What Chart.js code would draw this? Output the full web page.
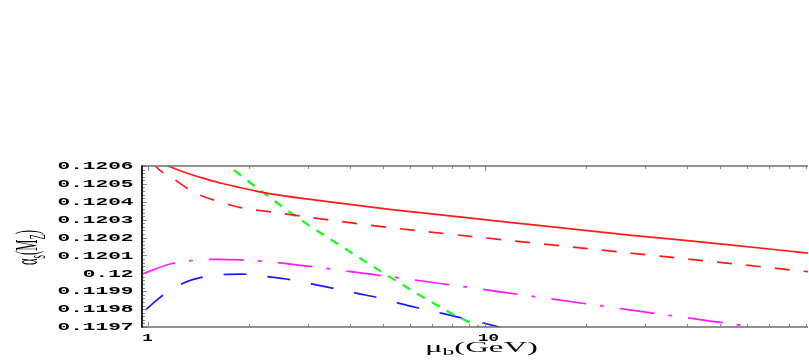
<!DOCTYPE html>
<html>
<head>
<meta charset="utf-8">
<script src="https://cdn.jsdelivr.net/npm/chart.js@4.4.1/dist/chart.umd.min.js"></script>
<style>
  html, body { margin: 0; padding: 0; background: #fff; }
  #wrap { width: 809px; height: 360px; }
</style>
</head>
<body>
<div id="wrap"><canvas id="chart" width="809" height="360"></canvas></div>
<script>
// mu_b (GeV) against alpha_s(M_Z), one pair of arrays per curve
const redSolidMu = [0.963, 1.162, 1.332, 1.494, 1.67, 1.875, 2.102, 2.35, 2.958, 3.713, 5.225, 11.85, 26.9, 50, 91.19];
const redSolidAlpha = [0.120671, 0.120597, 0.120555, 0.120527, 0.120502, 0.12048, 0.12046, 0.120443, 0.120416, 0.120392, 0.120358, 0.120285, 0.120214, 0.120165, 0.120113];

const redDashMu = [1.04, 1.061, 1.189, 1.379, 1.635, 1.875, 2.354, 2.958, 3.713, 5.225, 11.3, 24.8, 50, 91.19];
const redDashAlpha = [0.120622, 0.120596, 0.120531, 0.120451, 0.1204, 0.120369, 0.120342, 0.120316, 0.120291, 0.120256, 0.120188, 0.120121, 0.120061, 0.120009];

const greenMu = [1.5, 1.739, 2.194, 2.825, 3.713, 5.12, 6.41, 8.04, 9.15, 10.5];
const greenAlpha = [0.120692, 0.1206, 0.120455, 0.120304, 0.120158, 0.119991, 0.119879, 0.119773, 0.119721, 0.119666];

const magentaMu = [0.963, 1.16, 1.43, 1.635, 1.875, 2.3, 2.69, 3.12, 4.47, 5.05, 8.03, 11.4, 20.7, 26.9, 33.5, 53.3, 91.19];
const magentaAlpha = [0.119995, 0.120051, 0.120075, 0.120078, 0.120075, 0.120065, 0.12005, 0.120036, 0.119998, 0.119985, 0.119934, 0.119894, 0.119826, 0.119796, 0.119771, 0.119719, 0.119659];

const blueMu = [0.986, 1.05, 1.108, 1.2, 1.36, 1.6, 1.9, 2.25, 2.69, 3.09, 3.66, 4.19, 4.94, 5.67, 6.63, 7.61, 8.9, 10.2, 11.2];
const blueAlpha = [0.119795, 0.11984, 0.119876, 0.11992, 0.119965, 0.11999, 0.119996, 0.119982, 0.119963, 0.11994, 0.119911, 0.119888, 0.11986, 0.119829, 0.119799, 0.119773, 0.119743, 0.119717, 0.119697];

// axes
const xMin = 0.963;
const xMax = 91.19;
const yMin = 0.1197;
const yMax = 0.1206;
const xMajorTicks = [1, 10];
const xTickLabels = ['1', '10'];
const xMinorTicks = [2, 3, 4, 5, 6, 7, 8, 9, 20, 30, 40, 50, 60, 70, 80, 90];
const yTicks = [0.1197, 0.1198, 0.1199, 0.12, 0.1201, 0.1202, 0.1203, 0.1204, 0.1205, 0.1206];
const yTickLabels = ['0.1197', '0.1198', '0.1199', '0.12', '0.1201', '0.1202', '0.1203', '0.1204', '0.1205', '0.1206'];

const toPoints = (mu, alpha) => mu.map((m, i) => ({ x: m, y: alpha[i] }));

function curve(mu, alpha, color, dash, width) {
    return {
        data: toPoints(mu, alpha),
        showLine: true,
        borderColor: color,
        borderWidth: width || 1.7,
        borderDash: dash,
        pointRadius: 0,
        cubicInterpolationMode: 'monotone',
        clip: 0
    };
}

// stretched text: the original figure is squashed vertically, so glyphs come out wide
function stretched(ctx, text, x, y, sx, align, baseline) {
    ctx.save();
    ctx.translate(x, y);
    ctx.scale(sx, 1);
    ctx.textAlign = align;
    ctx.textBaseline = baseline;
    ctx.fillText(text, 0, 0);
    ctx.restore();
}

function richWidth(ctx, parts) {
    let w = 0;
    parts.forEach(p => {
        ctx.font = p.font;
        w += ctx.measureText(p.t).width;
    });
    return w;
}

function drawRich(ctx, parts, u0) {
    let u = u0;
    parts.forEach(p => {
        ctx.font = p.font;
        ctx.fillText(p.t, u, p.dy || 0);
        u += ctx.measureText(p.t).width;
    });
}

const framePlugin = {
    id: 'frame',
    afterDatasetsDraw(chart) {
        const { ctx, chartArea: a, scales: { x, y } } = chart;
        ctx.save();

        // tick marks, pointing inwards
        ctx.strokeStyle = '#8a8a8a';
        ctx.lineWidth = 1;
        const seg = (x1, y1, x2, y2) => {
            ctx.beginPath();
            ctx.moveTo(x1, y1);
            ctx.lineTo(x2, y2);
            ctx.stroke();
        };
        xMajorTicks.forEach(v => {
            const px = Math.round(x.getPixelForValue(v)) + 0.5;
            seg(px, a.bottom, px, a.bottom - 5);
            seg(px, a.top, px, a.top + 5);
        });
        xMinorTicks.forEach(v => {
            const px = Math.round(x.getPixelForValue(v)) + 0.5;
            seg(px, a.bottom, px, a.bottom - 3);
            seg(px, a.top, px, a.top + 3);
        });
        for (let i = 0; i <= 45; i++) {
            const py = Math.round(y.getPixelForValue(yMin + i * 0.00002)) + 0.5;
            seg(a.left, py, a.left + (i % 5 === 0 ? 5 : 3), py);
        }

        // frame
        ctx.strokeStyle = '#6e6e6e';
        ctx.lineWidth = 1.5;
        seg(a.left, a.top, a.right, a.top);
        seg(a.left, a.bottom, a.right, a.bottom);
        ctx.strokeStyle = '#222';
        ctx.lineWidth = 2;
        seg(a.left, a.top - 0.75, a.left, a.bottom + 0.75);

        // tick labels
        ctx.fillStyle = '#000';
        ctx.font = 'bold 11px "Liberation Mono"';
        const syLab = 76 / ctx.measureText('0.1206').width;
        yTicks.forEach((v, i) => {
            stretched(ctx, yTickLabels[i], 133.5, y.getPixelForValue(v) + 0.5, syLab, 'right', 'middle');
        });
        const sxLab = 21 / ctx.measureText('10').width;
        xMajorTicks.forEach((v, i) => {
            const shift = xTickLabels[i].length > 1 ? 4 : 0;
            stretched(ctx, xTickLabels[i], x.getPixelForValue(v) + shift, 341, sxLab, 'center', 'alphabetic');
        });

        // x title: mu_b(GeV)
        const xTitle = [
            { t: 'μ', font: '14px "Liberation Serif"' },
            { t: 'b', font: '10px "Liberation Serif"', dy: 3 },
            { t: '(GeV)', font: '14px "Liberation Serif"' }
        ];
        const wx = richWidth(ctx, xTitle);
        ctx.save();
        ctx.translate(481.5, 352);
        ctx.scale(113 / wx, 1);
        ctx.textAlign = 'left';
        ctx.textBaseline = 'alphabetic';
        drawRich(ctx, xTitle, -wx / 2);
        ctx.restore();

        // y title: alpha_s(M_Z), rotated
        const yTitle = [
            { t: 'α', font: '13px "Liberation Serif"' },
            { t: 's', font: '9px "Liberation Serif"', dy: 3 },
            { t: '(M', font: '13px "Liberation Serif"' },
            { t: 'Z', font: '9px "Liberation Serif"', dy: 3 },
            { t: ')', font: '13px "Liberation Serif"' }
        ];
        const wy = richWidth(ctx, yTitle);
        ctx.save();
        ctx.translate(37, 247.5);
        ctx.scale(2.5, 35 / wy);
        ctx.rotate(-Math.PI / 2);
        ctx.textAlign = 'left';
        ctx.textBaseline = 'alphabetic';
        drawRich(ctx, yTitle, -wy / 2);
        ctx.restore();

        ctx.restore();
    }
};

new Chart(document.getElementById('chart'), {
    type: 'scatter',
    data: {
        datasets: [
            curve(redSolidMu, redSolidAlpha, '#ff1a1a', []),
            curve(redDashMu, redDashAlpha, '#ff1a1a', [15, 14]),
            curve(greenMu, greenAlpha, '#22f522', [9, 8], 2.3),
            curve(magentaMu, magentaAlpha, '#ff1aff', [35, 14, 4, 16]),
            curve(blueMu, blueAlpha, '#1a1aff', [23, 21])
        ]
    },
    options: {
        responsive: false,
        animation: false,
        layout: { padding: { left: 142, right: 1, top: 166, bottom: 33 } },
        plugins: {
            legend: { display: false },
            tooltip: { enabled: false }
        },
        scales: {
            x: { type: 'logarithmic', min: xMin, max: xMax, display: false },
            y: { type: 'linear', min: yMin, max: yMax, display: false }
        }
    },
    plugins: [framePlugin]
});
</script>
</body>
</html>
